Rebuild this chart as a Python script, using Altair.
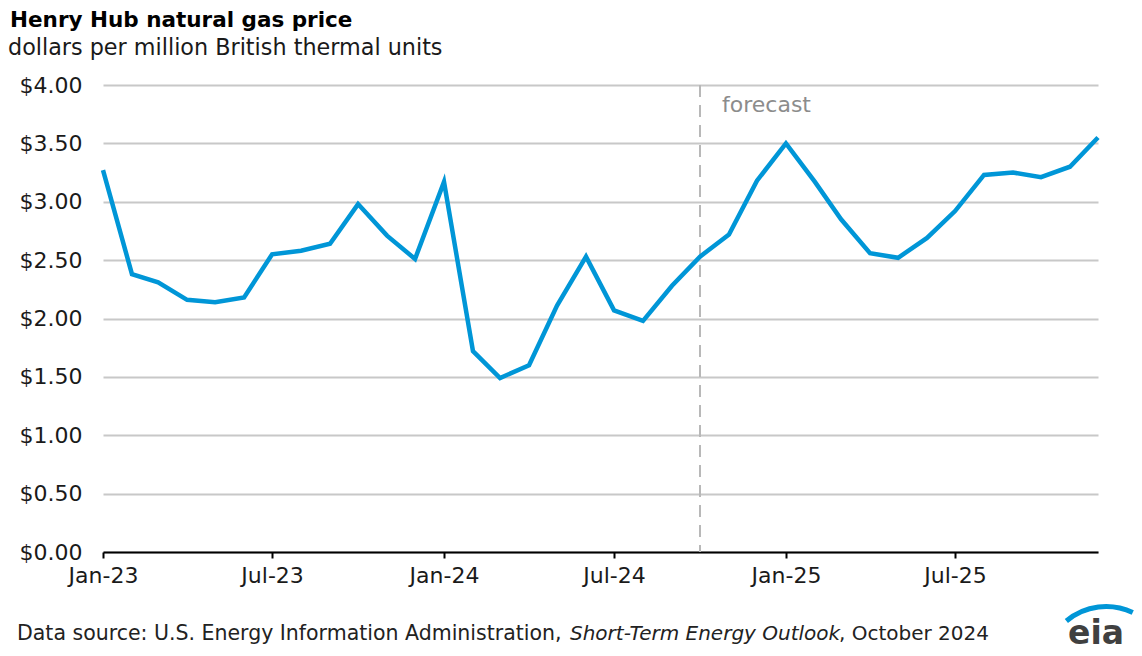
import altair as alt
import pandas as pd

# ---- data ----
months = pd.date_range("2023-01-01", periods=36, freq="MS").strftime("%Y-%m-%d").tolist()
prices = [3.27, 2.38, 2.31, 2.16, 2.14, 2.18, 2.55, 2.58, 2.64, 2.98, 2.71, 2.51,
          3.17, 1.72, 1.49, 1.60, 2.11, 2.53, 2.07, 1.98, 2.28, 2.53, 2.72, 3.18,
          3.50, 3.17, 2.85, 2.56, 2.52, 2.69, 2.92, 3.23, 3.25, 3.21, 3.30, 3.55]
x_tick_dates = [(2023, 1), (2023, 7), (2024, 1), (2024, 7), (2025, 1), (2025, 7)]
y_ticks = [0, 0.5, 1.0, 1.5, 2.0, 2.5, 3.0, 3.5, 4.0]
forecast_start = ["2024-10-01"]

title_text = "Henry Hub natural gas price"
subtitle_text = "dollars per million British thermal units"
source_a = "Data source: U.S. Energy Information Administration,"
source_b = "Short-Term Energy Outlook"
source_c = ", October 2024"

W, H = 995, 467
FONT = "DejaVu Sans"
BLUE = "#0096d7"

df = pd.DataFrame({"date": months, "price": prices})

x_scale = alt.Scale(
    type="utc",
    domain=[alt.DateTime(year=2023, month=1, date=1, utc=True),
            alt.DateTime(year=2025, month=12, date=1, utc=True)],
)

line = alt.Chart(df).mark_line(color=BLUE, strokeWidth=4.5).encode(
    x=alt.X(
        "date:T",
        scale=x_scale,
        axis=alt.Axis(
            values=[alt.DateTime(year=y, month=m, date=1, utc=True) for y, m in x_tick_dates],
            labelExpr="utcFormat(datum.value, '%b-%y')",
            title=None, grid=False,
            domainColor="black", domainWidth=2,
            tickColor="black", tickWidth=2, tickSize=6,
            labelFont=FONT, labelFontSize=22, labelColor="#1a1a1a",
            labelPadding=7, labelFlush=False, labelOverlap=False,
        ),
    ),
    y=alt.Y(
        "price:Q",
        scale=alt.Scale(domain=[0, 4], nice=False),
        axis=alt.Axis(
            values=y_ticks, format="$.2f", title=None,
            domain=False, ticks=False, tickSize=0, labelPadding=21,
            gridColor="#c8c8c8", gridWidth=2,
            labelFont=FONT, labelFontSize=22, labelColor="#1a1a1a",
        ),
    ),
)

fdf = pd.DataFrame({"date": forecast_start, "t": ["forecast"]})
rule = alt.Chart(fdf).mark_rule(color="#b8b8b8", strokeWidth=2, strokeDash=[12, 8]).encode(
    x=alt.X("date:T", scale=x_scale)
)
ftext = alt.Chart(fdf).mark_text(
    align="left", baseline="alphabetic", dx=22, y=27,
    font=FONT, fontSize=22, color="#8c8c8c",
).encode(x=alt.X("date:T", scale=x_scale), text="t:N")


def label(txt, x, y, size, weight="normal", style="normal", color="#1a1a1a"):
    return alt.Chart(pd.DataFrame({"t": [txt]})).mark_text(
        align="left", baseline="alphabetic", font=FONT, fontSize=size,
        fontWeight=weight, fontStyle=style, color=color,
    ).encode(text="t:N", x=alt.value(x), y=alt.value(y))


title = label(title_text, -93, -58, 21.5, weight="bold", color="black")
subtitle = label(subtitle_text, -95, -30, 22.3)
src1 = label(source_a, -86, 555, 20.5, color="#222222")
src2 = label(source_b, 467, 555, 20, style="italic", color="#222222")
src3 = label(source_c, 736, 555, 20, color="#222222")

logo_arc = alt.Chart(pd.DataFrame({"a": [0]})).mark_arc(
    radius=64, radius2=59, color=BLUE
).encode(
    x=alt.value(1003), y=alt.value(583),
    theta=alt.value(5.583), theta2=alt.value(6.733),
)
logo_txt = label("eia", 965, 559, 33, weight="bold", color="#404040")

chart = alt.layer(
    rule, line, ftext, title, subtitle, src1, src2, src3, logo_arc, logo_txt
).properties(
    width=W, height=H,
    autosize=alt.AutoSizeParams(type="none"),
    padding={"left": 95, "top": 77, "right": 36, "bottom": 102},
    background="white",
).configure_view(stroke=None)

chart.save("out.html", embed_options={"renderer": "svg", "actions": False})
